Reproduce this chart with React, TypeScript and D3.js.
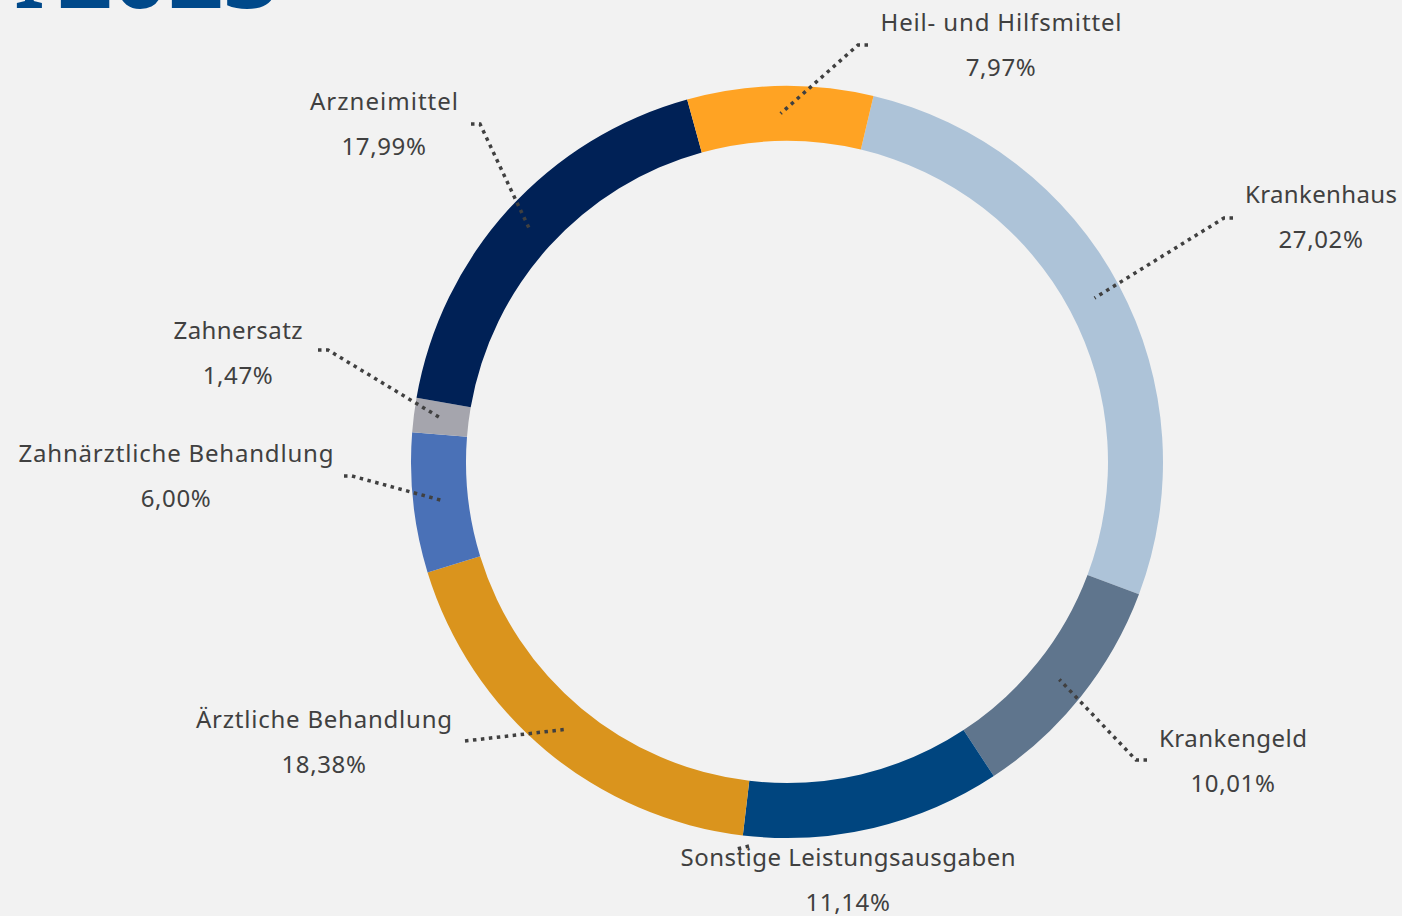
import React from "react";
import * as d3 from "d3";

// ---- data ----
const categories = [
  "Krankenhaus",
  "Krankengeld",
  "Sonstige Leistungsausgaben",
  "Ärztliche Behandlung",
  "Zahnärztliche Behandlung",
  "Zahnersatz",
  "Arzneimittel",
  "Heil- und Hilfsmittel",
];
const values = [27.02, 10.01, 11.14, 18.38, 6.0, 1.47, 17.99, 7.97];
const percentLabels = ["27,02%", "10,01%", "11,14%", "18,38%", "6,00%", "1,47%", "17,99%", "7,97%"];
const titleText = "2023";

// ---- styling / layout ----
const colors = ["#ADC3D8", "#5F758D", "#00457F", "#DA941D", "#4A71B7", "#A5A5AD", "#002156", "#FFA323"];
const W = 1402;
const H = 916;
const CX = 787;
const CY = 462;
const R_OUT = 376;
const R_IN = 321;
const START_DEG = 13.3;

// label anchor: center x, name baseline y, name width; leader: label-side points
const labelLayout = [
  { x: 1321, y: 203, w: 152, leader: [[1233, 218], [1224, 218]] },
  { x: 1233, y: 747, w: 148, leader: [[1147, 760], [1136, 760]] },
  { x: 848, y: 866, w: 335, leader: [[749, 846], [737, 849]] },
  { x: 324, y: 728, w: 256, leader: [[465, 741]] },
  { x: 176, y: 462, w: 315, leader: [[344, 476], [352, 476]] },
  { x: 238, y: 339, w: 129, leader: [[318, 350], [328, 350]] },
  { x: 384, y: 110, w: 148, leader: [[471, 124], [480, 124]] },
  { x: 1001, y: 31, w: 241, leader: [[868, 45], [858, 45]] },
];

const FONT = "'Noto Sans', 'Open Sans', sans-serif";

export default function App() {
  const pie = d3
    .pie<number>()
    .sort(null)
    .value((d) => d)
    .startAngle((START_DEG * Math.PI) / 180)
    .endAngle((START_DEG * Math.PI) / 180 + 2 * Math.PI);
  const arcs = pie(values);
  const arc = d3.arc<d3.PieArcDatum<number>>().innerRadius(R_IN).outerRadius(R_OUT);
  const line = d3.line();

  return (
    <svg
      width={W}
      height={H}
      style={{ position: "absolute", left: 0, top: 0, display: "block" }}
    >
      <rect width={W} height={H} fill="#F2F2F2" />
      <text x={13} y={8} fontFamily={FONT} fontWeight={400} fontSize={97} fill="#00498A">
        I
      </text>
      <text x={57} y={8} fontFamily={FONT} fontWeight={700} fontSize={97} fill="#00498A">
        {titleText}
      </text>
      <g transform={`translate(${CX},${CY})`}>
        {arcs.map((a, i) => (
          <path key={i} d={arc(a) || ""} fill={colors[i]} />
        ))}
      </g>
      {arcs.map((a, i) => {
        const [mx, my] = arc.centroid(a);
        const pts: [number, number][] = [
          ...(labelLayout[i].leader as [number, number][]),
          [CX + mx, CY + my],
        ];
        if (i === 2) return null;
        return (
          <path
            key={"l" + i}
            d={line(pts) || ""}
            fill="none"
            stroke="#404040"
            strokeWidth={3.5}
            strokeDasharray="3.5 4.5"
          />
        );
      })}
      <path
        d={line(labelLayout[2].leader as [number, number][]) || ""}
        fill="none"
        stroke="#404040"
        strokeWidth={3.5}
        strokeDasharray="3.5 4.5"
      />
      {categories.map((c, i) => (
        <g key={"t" + i} fontFamily={FONT} fontSize={24} fill="#404040" textAnchor="middle">
          <text
            x={labelLayout[i].x}
            y={labelLayout[i].y}
            textLength={labelLayout[i].w}
            lengthAdjust="spacing"
          >
            {c}
          </text>
          <text x={labelLayout[i].x} y={labelLayout[i].y + 45} letterSpacing={0.6}>
            {percentLabels[i]}
          </text>
        </g>
      ))}
    </svg>
  );
}
